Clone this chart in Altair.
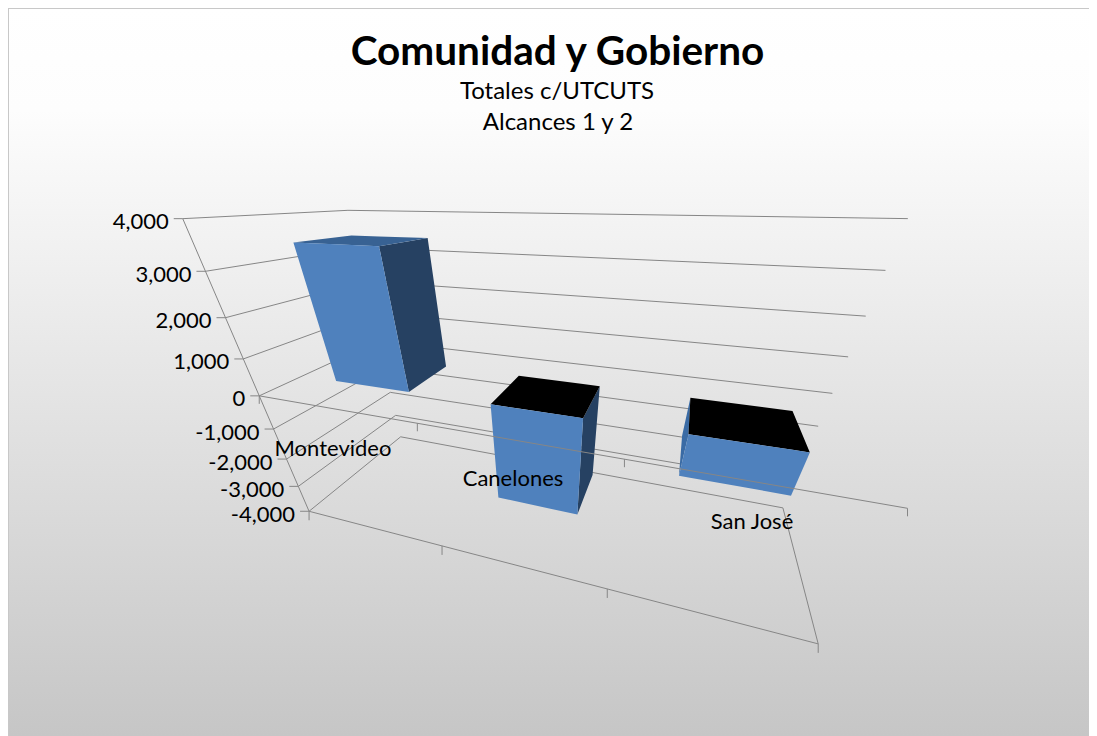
import altair as alt
import numpy as np
import pandas as pd

# ---- chart values -------------------------------------------------------
categories = ["Montevideo", "Canelones", "San José"]
values = [3470, -3030, -1140]
tick_values = [4000, 3000, 2000, 1000, 0, -1000, -2000, -3000, -4000]
title_text = "Comunidad y Gobierno"
subtitle_lines = ["Totales c/UTCUTS", "Alcances 1 y 2"]

# ---- camera calibration of the 3-D box: (cat, thousands, depth) -> page px
calib_world = [(0, 4, 0), (0, 0, 0), (0, -4, 0), (0, 4, 1), (0, 0, 1), (0, -4, 1),
               (3, 4, 1), (3, 0, 1), (3, -4, 1), (3, 0, 0), (3, -4, 0)]
calib_page = [(183, 219), (259, 396), (309, 511), (348, 210), (378, 341), (401, 437),
              (908, 219), (832, 393), (783, 508), (908, 508), (818, 644)]

A, b = [], []
for (X, Y, Z), (u, v) in zip(calib_world, calib_page):
    A.append([X, Y, Z, 1, 0, 0, 0, 0, -u * X, -u * Y, -u * Z])
    b.append(u)
    A.append([0, 0, 0, 0, X, Y, Z, 1, -v * X, -v * Y, -v * Z])
    b.append(v)
p = np.linalg.lstsq(np.array(A, float), np.array(b, float), rcond=None)[0]
P = np.append(p, 1.0).reshape(3, 4)


def proj(X, Y, Z):
    h = P @ np.array([X, Y, Z, 1.0])
    return float(h[0] / h[2]), float(h[1] / h[2])


BAR_HALF = 0.25
Z0, Z1 = 0.295, 0.698
LINE = "#868686"
FRONT, SIDE, SIDE_L, TOP = "#4f81bd", "#264162", "#3a6ba5", "#386293"


# ---- convex polygon -> area rows ----------------------------------------
def area_rows(pts, face, col):
    xs = sorted({x for x, _ in pts})
    rows = []
    for x in xs:
        ys = []
        for (x1, y1), (x2, y2) in zip(pts, pts[1:] + pts[:1]):
            if x1 == x2:
                if x == x1:
                    ys += [y1, y2]
            elif min(x1, x2) <= x <= max(x1, x2):
                ys.append(y1 + (y2 - y1) * (x - x1) / (x2 - x1))
        rows.append({"x": x, "y": min(ys), "y2": max(ys), "face": face, "col": col})
    return rows


def signed(pts):
    return sum(a[0] * b[1] - b[0] * a[1] for a, b in zip(pts, pts[1:] + pts[:1]))


face_rows = []
for i, val in enumerate(values):
    x0, x1 = i + 0.5 - BAR_HALF, i + 0.5 + BAR_HALF
    lo, hi = min(0, val) / 1000, max(0, val) / 1000
    faces = {
        "left": ([(x0, lo, Z1), (x0, lo, Z0), (x0, hi, Z0), (x0, hi, Z1)], SIDE_L),
        "right": ([(x1, lo, Z0), (x1, lo, Z1), (x1, hi, Z1), (x1, hi, Z0)], SIDE),
        "top": ([(x0, hi, Z0), (x1, hi, Z0), (x1, hi, Z1), (x0, hi, Z1)], "#000000" if val < 0 else TOP),
        "front": ([(x0, lo, Z0), (x1, lo, Z0), (x1, hi, Z0), (x0, hi, Z0)], FRONT),
    }
    for name, (corners, col) in faces.items():
        pts = [proj(*c) for c in corners]
        if signed(pts) < 0:
            face_rows += area_rows(pts, f"{i}-{name}", col)
faces_df = pd.DataFrame(face_rows)


# ---- rules --------------------------------------------------------------
def seg(a, b):
    (x, y), (x2, y2) = proj(*a), proj(*b)
    return {"x": x, "y": y, "x2": x2, "y2": y2}


def down(a, n=8):
    x, y = proj(*a)
    return {"x": x, "y": y, "x2": x, "y2": y + n}


back_rows = []
for t in tick_values:
    Y = t / 1000
    back_rows.append(seg((0, Y, 0), (0, Y, 1)))
    back_rows.append(seg((0, Y, 1), (3, Y, 1)))
back_rows.append(seg((0, -4, 0), (3, -4, 0)))
back_rows.append(seg((3, -4, 1), (3, -4, 0)))
for k in range(4):
    back_rows.append(down((k, -4, 0), 9))

front_rows = [seg((0, 4, 0), (0, -4, 0)), seg((0, 0, 0), (3, 0, 0))]
for k in range(4):
    front_rows.append(down((k, 0, 0), 8))
tick_rows, label_rows = [], []
for t in tick_values:
    x, y = proj(0, t / 1000, 0)
    tick_rows.append({"x": x - 9, "y": y, "x2": x, "y2": y})
    label_rows.append({"x": x - 14, "y": y + 3.5, "label": f"{t:,}"})
front_rows += tick_rows

# ---- layers -------------------------------------------------------------
W, H = 1081, 728
X = alt.X("x:Q", scale=alt.Scale(domain=[8, 8 + W], nice=False, zero=False), axis=None)
Y = alt.Y("y:Q", scale=alt.Scale(domain=[8 + H, 8], nice=False, zero=False), axis=None)
one = pd.DataFrame({"a": [0]})

bg = alt.Chart(one).mark_rect(
    color=alt.Gradient(
        gradient="linear", x1=0, x2=0, y1=0, y2=1,
        stops=[alt.GradientStop(offset=0, color="#ffffff"),
               alt.GradientStop(offset=0.14, color="#fdfdfd"),
               alt.GradientStop(offset=1, color="#c6c6c6")],
    )
).encode(x=alt.value(0), x2=alt.value(W), y=alt.value(0), y2=alt.value(H))
edge_left = alt.Chart(one).mark_rect(color="#c8c8c8").encode(
    x=alt.value(0), x2=alt.value(1), y=alt.value(0), y2=alt.value(H))
edge_top = alt.Chart(one).mark_rect(color="#c8c8c8").encode(
    x=alt.value(0), x2=alt.value(W), y=alt.value(0), y2=alt.value(1))


def rules(rows):
    return alt.Chart(pd.DataFrame(rows)).mark_rule(color=LINE, strokeWidth=1).encode(
        x=X, y=Y, x2="x2:Q", y2="y2:Q")


bars = alt.Chart(faces_df).mark_area(orient="vertical", interpolate="linear").encode(
    x=X, y=Y, y2="y2:Q",
    detail="face:N",
    color=alt.Color("col:N", scale=None),
)

FONT = "Lato"
labels = alt.Chart(pd.DataFrame(label_rows)).mark_text(
    font=FONT, fontSize=22, align="right", baseline="middle", color="#000000"
).encode(x=X, y=Y, text="label:N")

cat_labels = alt.Chart(pd.DataFrame({
    "label": categories, "x": [333, 513, 752], "y": [449, 479, 522]
})).mark_text(font=FONT, fontSize=22, align="center", baseline="middle", color="#000000").encode(
    x=X, y=Y, text="label:N")

title = alt.Chart(pd.DataFrame({"label": [title_text], "x": [557.5], "y": [52.5]})).mark_text(
    font=FONT, fontSize=40.5, fontWeight="bold", align="center", baseline="middle", color="#000000"
).encode(x=X, y=Y, text="label:N")
subtitle = alt.Chart(pd.DataFrame({"label": subtitle_lines, "x": [557, 558], "y": [91.5, 123]})).mark_text(
    font=FONT, fontSize=24, align="center", baseline="middle", color="#000000"
).encode(x=X, y=Y, text="label:N")

chart = alt.layer(
    bg, edge_left, edge_top, rules(back_rows), bars, rules(front_rows),
    labels, cat_labels, title, subtitle,
).properties(
    width=W, height=H, padding=0, autosize=alt.AutoSizeParams(type="none")
).configure_view(stroke=None)

chart.save("out.html", embed_options={"renderer": "svg", "actions": False})
